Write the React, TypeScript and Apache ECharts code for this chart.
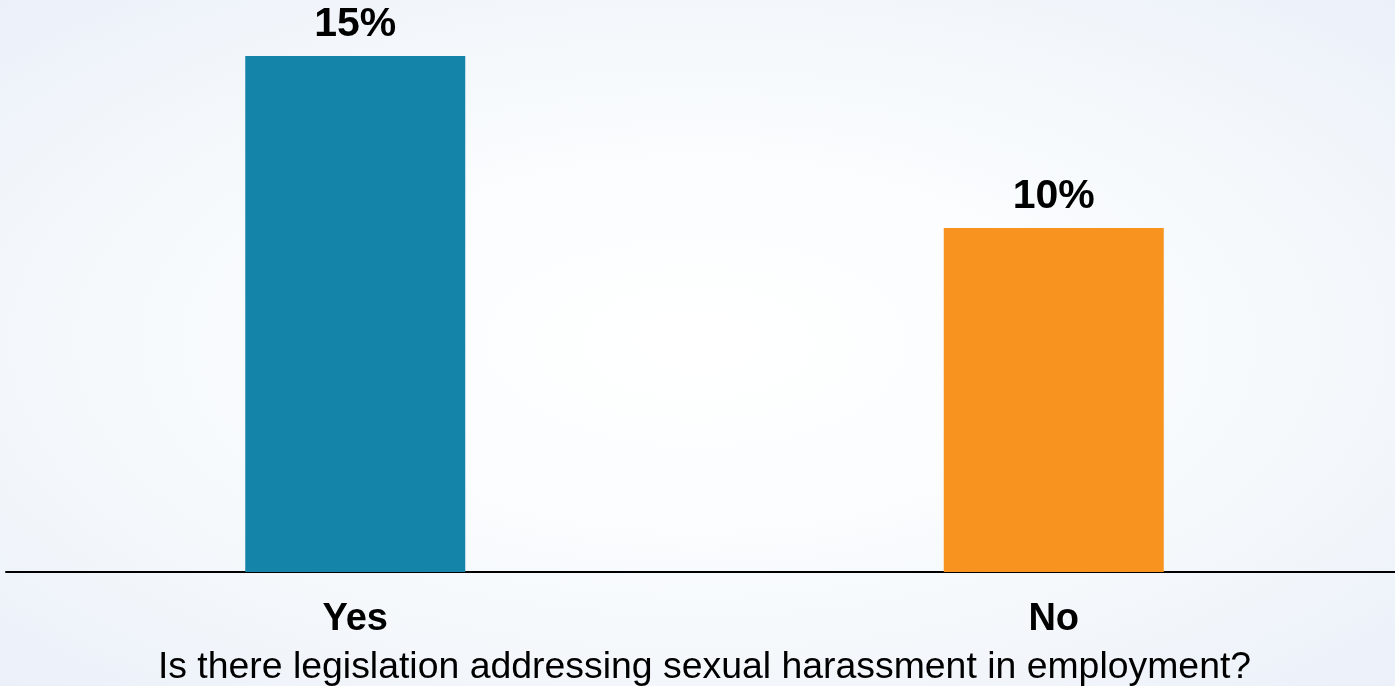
import React, { useEffect, useRef } from "react";
import * as echarts from "echarts";

const categories = ["Yes", "No"];
const values = [15, 10];
const barColors = ["#1485A9", "#F7931E"];
const axisTitle = "Is there legislation addressing sexual harassment in employment?";

export default function App() {
  const ref = useRef<HTMLDivElement>(null);
  useEffect(() => {
    if (!ref.current) return;
    const chart = echarts.init(ref.current, undefined, { renderer: "svg" });
    chart.setOption({
      animation: false,
      grid: { left: 6, width: 1397, top: 56, bottom: 114, outerBoundsMode: "none" },
      xAxis: {
        type: "category",
        data: categories,
        axisLine: { show: true, lineStyle: { color: "#000", width: 2 } },
        axisTick: { show: false },
        axisLabel: {
          color: "#000",
          fontFamily: "Liberation Sans, Arial, sans-serif",
          fontWeight: "bold",
          fontSize: 38,
          margin: 26,
        },
        name: axisTitle,
        nameLocation: "middle",
        nameGap: 74,
        nameTextStyle: {
          color: "#000",
          fontFamily: "Liberation Sans, Arial, sans-serif",
          fontSize: 37.4,
        },
      },
      yAxis: {
        type: "value",
        min: 0,
        max: 15,
        show: false,
        splitLine: { show: false },
      },
      series: [
        {
          type: "bar",
          barWidth: 220,
          data: values.map((v, i) => ({ value: v, itemStyle: { color: barColors[i] } })),
          label: {
            show: true,
            position: "top",
            distance: 14,
            formatter: "{c}%",
            color: "#000",
            fontFamily: "Liberation Sans, Arial, sans-serif",
            fontWeight: "bold",
            fontSize: 41,
          },
        },
      ],
    });
    return () => chart.dispose();
  }, []);
  return (
    <div
      ref={ref}
      style={{
        position: "fixed",
        left: 0,
        top: 0,
        width: 1395,
        height: 686,
        background:
          "radial-gradient(ellipse at 50% 50%, #ffffff 0%, #fbfdfe 35%, #f3f7fb 70%, #ebf0f9 100%)",
      }}
    />
  );
}
